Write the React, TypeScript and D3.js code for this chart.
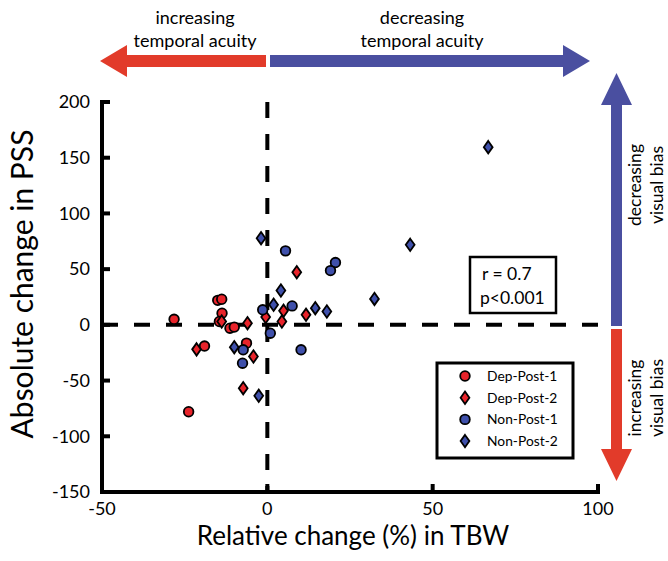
import React, { useEffect, useRef } from 'react';
import * as d3 from 'd3';

// values: [relative change in TBW (%), absolute change in PSS]
const depPost1 = [
  [-28.2, 5], [-15, 22], [-13.8, 23], [-13.7, 10.5], [-14.5, 3],
  [-11.3, -3], [-10, -2], [-19, -19], [-6.3, -16.4], [-23.8, -78],
];
const depPost2 = [
  [-13.8, 3], [-6, 1.5], [-21.4, -22], [-4.2, -28.4], [-7.3, -56.8],
  [-0.5, 7], [4.9, 12.6], [4.4, 3], [11.7, 9], [8.9, 47.3],
];
const nonPost1 = [
  [-1.4, 13.5], [0.9, -7.5], [5.5, 66.4], [7.5, 17], [10.2, -22.4],
  [20.6, 55.9], [19.1, 48.7], [-7.3, -22.4], [-7.5, -34.4],
];
const nonPost2 = [
  [-1.9, 77.8], [4.1, 30.8], [1.9, 18], [14.5, 15], [18, 12],
  [32.4, 23.3], [43.2, 71.8], [66.8, 159.5], [-10, -20], [-2.6, -63.7],
];

const xTicks = [-50, 0, 50, 100];
const yTicks = [200, 150, 100, 50, 0, -50, -100, -150];

const RED = '#e8242b';
const BLUE = '#3f50ab';
const ARROW_RED = '#e23b2a';
const ARROW_BLUE = '#4a4fa0';
const FONT = 'Lato, "Open Sans", sans-serif';

const series = [
  { name: 'Dep-Post-1', data: depPost1, color: RED, shape: 'circle' },
  { name: 'Dep-Post-2', data: depPost2, color: RED, shape: 'diamond' },
  { name: 'Non-Post-1', data: nonPost1, color: BLUE, shape: 'circle' },
  { name: 'Non-Post-2', data: nonPost2, color: BLUE, shape: 'diamond' },
];

const App = () => {
  const ref = useRef(null);

  useEffect(() => {
    const svg = d3.select(ref.current);
    svg.selectAll('*').remove();

    const x = d3.scaleLinear().domain([-50, 100]).range([102, 598]);
    const y = d3.scaleLinear().domain([-150, 200]).range([492, 102]);

    const drawMarker = (g, shape, color) => {
      if (shape === 'circle') {
        g.append('circle').attr('r', 4.8)
          .attr('fill', color).attr('stroke', '#000').attr('stroke-width', 1.8);
      } else {
        g.append('path').attr('d', 'M0,-6.2 L4.4,0 L0,6.2 L-4.4,0 Z')
          .attr('fill', color).attr('stroke', '#000').attr('stroke-width', 1.8)
          .attr('stroke-linejoin', 'miter');
      }
    };

    // dashed zero lines
    svg.append('line')
      .attr('x1', x(0)).attr('x2', x(0)).attr('y1', y(200)).attr('y2', y(-150))
      .attr('stroke', '#000').attr('stroke-width', 4).attr('stroke-dasharray', '16,16');
    svg.append('line')
      .attr('x1', x(-50)).attr('x2', x(100)).attr('y1', y(0)).attr('y2', y(0))
      .attr('stroke', '#000').attr('stroke-width', 4).attr('stroke-dasharray', '16,16');

    // points
    series.forEach(s => {
      s.data.forEach(d => {
        const g = svg.append('g').attr('transform', `translate(${x(d[0])},${y(d[1])})`);
        drawMarker(g, s.shape, s.color);
      });
    });

    // axes
    const axes = svg.append('g');
    axes.append('path')
      .attr('d', `M${x(-50)},${y(200)} L${x(-50)},${y(-150)} L${x(100)},${y(-150)}`)
      .attr('fill', 'none').attr('stroke', '#000').attr('stroke-width', 4)
      .attr('stroke-linecap', 'square');
    yTicks.forEach(t => {
      axes.append('line')
        .attr('x1', x(-50)).attr('x2', x(-50) + 8).attr('y1', y(t)).attr('y2', y(t))
        .attr('stroke', '#000').attr('stroke-width', 4);
      axes.append('text')
        .attr('x', x(-50) - 12).attr('y', y(t)).attr('dy', '0.35em')
        .attr('text-anchor', 'end').attr('font-size', 18).attr('font-family', FONT)
        .text(t);
    });
    xTicks.forEach(t => {
      axes.append('line')
        .attr('x1', x(t)).attr('x2', x(t)).attr('y1', y(-150)).attr('y2', y(-150) - 8)
        .attr('stroke', '#000').attr('stroke-width', 4);
      axes.append('text')
        .attr('x', x(t)).attr('y', 515)
        .attr('text-anchor', 'middle').attr('font-size', 18).attr('font-family', FONT)
        .text(t);
    });

    // axis titles
    svg.append('text')
      .attr('x', 353).attr('y', 545).attr('text-anchor', 'middle')
      .attr('font-size', 26).attr('font-family', FONT)
      .text('Relative change (%) in TBW');
    svg.append('text')
      .attr('transform', 'translate(33,284) rotate(-90)').attr('text-anchor', 'middle')
      .attr('font-size', 30).attr('font-family', FONT)
      .text('Absolute change in PSS');

    // statistics box
    svg.append('rect')
      .attr('x', 470).attr('y', 257).attr('width', 86).attr('height', 56)
      .attr('fill', '#fff').attr('stroke', '#000').attr('stroke-width', 2.5);
    svg.append('text').attr('x', 482).attr('y', 280)
      .attr('font-size', 17.5).attr('font-family', FONT).text('r = 0.7');
    svg.append('text').attr('x', 480).attr('y', 304)
      .attr('font-size', 17.5).attr('font-family', FONT).text('p<0.001');

    // legend
    svg.append('rect')
      .attr('x', 437).attr('y', 363).attr('width', 136).attr('height', 95)
      .attr('fill', '#fff').attr('stroke', '#000').attr('stroke-width', 3);
    series.forEach((s, i) => {
      const ly = 376 + i * 21.7;
      const g = svg.append('g').attr('transform', `translate(465,${ly})`);
      drawMarker(g, s.shape, s.color);
      svg.append('text').attr('x', 487).attr('y', ly).attr('dy', '0.35em')
        .attr('font-size', 13.8).attr('font-family', FONT).text(s.name);
    });

    // direction arrows
    const hArrow = (x0, x1, yc, dir, color) => {
      // dir: -1 points left, +1 points right; x1 is the tip
      const hb = x1 - dir * 27;
      const pts = [
        [x0, yc - 6], [hb, yc - 6], [hb, yc - 16], [x1, yc],
        [hb, yc + 16], [hb, yc + 6], [x0, yc + 6],
      ];
      svg.append('polygon').attr('points', pts.map(p => p.join(',')).join(' ')).attr('fill', color);
    };
    const vArrow = (y0, y1, xc, dir, color) => {
      const hb = y1 - dir * 32;
      const pts = [
        [xc - 5.5, y0], [xc - 5.5, hb], [xc - 15.5, hb], [xc, y1],
        [xc + 15.5, hb], [xc + 5.5, hb], [xc + 5.5, y0],
      ];
      svg.append('polygon').attr('points', pts.map(p => p.join(',')).join(' ')).attr('fill', color);
    };
    hArrow(266, 100, 61, -1, ARROW_RED);
    hArrow(270, 590, 61, 1, ARROW_BLUE);
    vArrow(326, 73, 616.5, -1, ARROW_BLUE);
    vArrow(329, 481, 616.5, 1, ARROW_RED);

    const note = (lines, tx, ty, rotate, gap) => {
      const t = svg.append('text')
        .attr('transform', `translate(${tx},${ty})${rotate ? ' rotate(-90)' : ''}`)
        .attr('text-anchor', 'middle').attr('font-size', rotate ? 17.5 : 18).attr('font-family', FONT);
      lines.forEach((l, i) => {
        t.append('tspan').attr('x', 0).attr('y', i * gap).text(l);
      });
    };
    note(['increasing', 'temporal acuity'], 195, 24, false, 22.5);
    note(['decreasing', 'temporal acuity'], 422, 24, false, 22.5);
    note(['decreasing', 'visual bias'], 641, 185, true, 21.5);
    note(['increasing', 'visual bias'], 641, 398, true, 21.5);
  }, []);

  return (
    <div style={{ position: 'absolute', left: 0, top: 0 }}>
      <svg ref={ref} width={668} height={561} style={{ display: 'block', background: '#fff' }} />
    </div>
  );
};

export default App;
